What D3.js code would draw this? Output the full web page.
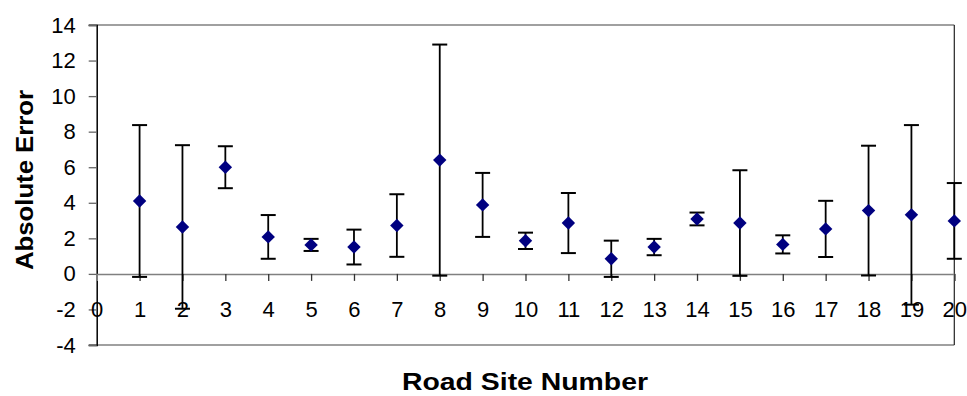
<!DOCTYPE html>
<html>
<head>
<meta charset="utf-8">
<script src="https://cdn.jsdelivr.net/npm/d3@7"></script>
<style>
  body { margin: 0; background: #fff; }
  svg { display: block; font-family: Arial, "Liberation Sans", sans-serif; }
</style>
</head>
<body>
<svg id="chart" width="967" height="396"></svg>
<script>
const sites = [1,2,3,4,5,6,7,8,9,10,11,12,13,14,15,16,17,18,19,20];
const absErr = [4.1,2.64,6.0,2.08,1.63,1.51,2.72,6.4,3.88,1.86,2.86,0.85,1.51,3.09,2.86,1.66,2.53,3.56,3.32,2.98];
const errBar = [4.27,4.6,1.18,1.23,0.34,0.98,1.76,6.5,1.8,0.46,1.69,1.02,0.46,0.36,2.97,0.51,1.58,3.65,5.05,2.13];
const yTicks = [-4,-2,0,2,4,6,8,10,12,14];
const xTicks = d3.range(0, 21);
const xTitle = "Road Site Number";
const yTitle = "Absolute Error";

const svg = d3.select("#chart");
const pL = 96.7, pR = 954.3, pT = 25, pB = 345;
const x = d3.scaleLinear().domain([0, 20]).range([pL, pR]);
const y = d3.scaleLinear().domain([-4, 14]).range([pB, pT]);
const fmt = d => String(d);

// plot border (top, bottom gray; right dark)
svg.append("line").attr("x1", pL - 8).attr("x2", pR).attr("y1", pT).attr("y2", pT)
  .attr("stroke", "#808080").attr("stroke-width", 1.5);
svg.append("line").attr("x1", pL - 8).attr("x2", pR).attr("y1", pB).attr("y2", pB)
  .attr("stroke", "#808080").attr("stroke-width", 1.5);
svg.append("line").attr("x1", pR).attr("x2", pR).attr("y1", pT).attr("y2", pB)
  .attr("stroke", "#222").attr("stroke-width", 1.2);

// y axis
const yAxis = d3.axisLeft(y).tickValues(yTicks).tickSize(8).tickPadding(13).tickFormat(fmt);
const gy = svg.append("g").attr("transform", `translate(${pL},0)`).call(yAxis);
gy.select(".domain").attr("stroke", "#000").attr("stroke-width", 1.5);
gy.selectAll(".tick line").attr("stroke", "#666").attr("stroke-width", 1.3);
gy.selectAll(".tick text").attr("font-size", 22).attr("fill", "#000")
  .attr("font-family", "Arial, 'Liberation Sans', sans-serif");

// x axis at y=0
const xAxis = d3.axisBottom(x).tickValues(xTicks).tickSize(7).tickPadding(0).tickFormat(fmt);
const gx = svg.append("g").attr("transform", `translate(0,${y(0)})`).call(xAxis);
gx.select(".domain").attr("stroke", "#808080").attr("stroke-width", 1.5);
gx.selectAll(".tick line").attr("stroke", "#333").attr("stroke-width", 1.3)
  .filter(d => d === 0).remove();
gx.selectAll(".tick text").attr("font-size", 22).attr("fill", "#000")
  .attr("font-family", "Arial, 'Liberation Sans', sans-serif")
  .attr("dy", null).attr("y", 43);

// error bars
const g = svg.append("g");
const capW = 7.5;
sites.forEach((s, i) => {
  const cx = x(s), hi = y(absErr[i] + errBar[i]), lo = y(absErr[i] - errBar[i]);
  g.append("line").attr("x1", cx).attr("x2", cx).attr("y1", hi).attr("y2", lo)
    .attr("stroke", "#000").attr("stroke-width", 1.8);
  [hi, lo].forEach(yy => g.append("line").attr("x1", cx - capW).attr("x2", cx + capW)
    .attr("y1", yy).attr("y2", yy).attr("stroke", "#000").attr("stroke-width", 2));
});

// markers
const sym = d3.symbol().type(d3.symbolSquare).size(90);
svg.append("g").selectAll("path").data(sites).join("path")
  .attr("d", sym)
  .attr("transform", (d, i) => `translate(${x(d)},${y(absErr[i])}) rotate(45)`)
  .attr("fill", "#000080");

// titles
svg.append("text").attr("x", 525).attr("y", 390).attr("text-anchor", "middle")
  .attr("font-size", 23).attr("font-weight", "bold")
  .attr("textLength", 246).attr("lengthAdjust", "spacingAndGlyphs")
  .text(xTitle);
svg.append("text").attr("transform", "translate(33,180) rotate(-90)").attr("text-anchor", "middle")
  .attr("font-size", 23).attr("font-weight", "bold")
  .attr("textLength", 180).attr("lengthAdjust", "spacingAndGlyphs")
  .text(yTitle);
</script>
</body>
</html>
